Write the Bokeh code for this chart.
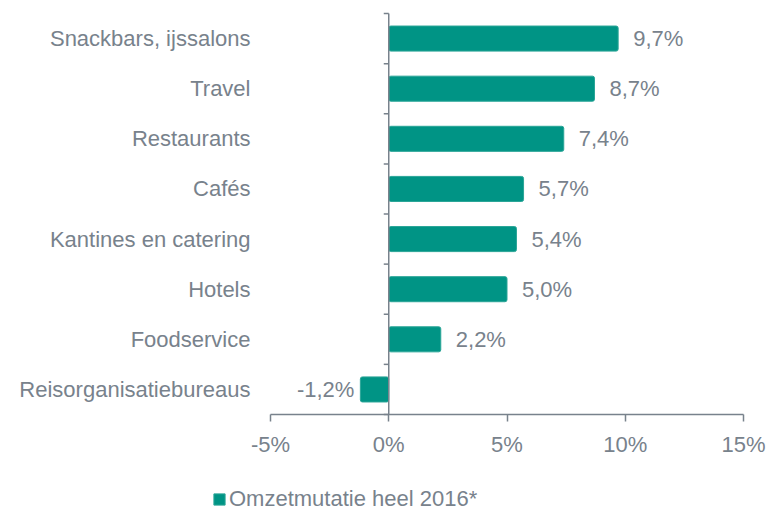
import numpy as np
from bokeh.plotting import figure
from bokeh.models import Range1d, FixedTicker, ColumnDataSource, Legend, LegendItem
from bokeh.core.properties import value
from bokeh.embed import file_html
from bokeh.resources import INLINE

categories = ["Snackbars, ijssalons", "Travel", "Restaurants", "Cafés",
              "Kantines en catering", "Hotels", "Foodservice", "Reisorganisatiebureaus"]
values = [9.7, 8.7, 7.4, 5.7, 5.4, 5.0, 2.2, -1.2]
x_ticks = [-5, 0, 5, 10, 15]
series_name = "Omzetmutatie heel 2016*"

TEAL = "#009485"
GRAY = "#78828c"
FONT = "Liberation Sans"
FS = "22px"

# layout (pixels): where the plotted data area sits inside the figure
W, H = 767, 512
X0PX, X1PX = 270, 743      # x = first / last tick
Y1PX, Y0PX = 13, 414       # top / bottom of category area

n = len(categories)
ppu_x = (X1PX - X0PX) / (x_ticks[-1] - x_ticks[0])
ppu_y = (Y0PX - Y1PX) / n
x_range = Range1d(x_ticks[0] - X0PX / ppu_x, x_ticks[-1] + (W - X1PX) / ppu_x)
y_range = Range1d(-(H - Y0PX) / ppu_y, n + Y1PX / ppu_y)

centers = [n - 1 - i + 0.5 for i in range(n)]
labels = [f"{v:.1f}".replace(".", ",") + "%" for v in values]
offsets = [15 if v >= 0 else -6 for v in values]
aligns = ["left" if v >= 0 else "right" for v in values]

src = ColumnDataSource(dict(y=centers, v=values, lab=labels, off=offsets, al=aligns))

p = figure(width=W, height=H, x_range=x_range, y_range=y_range,
           output_backend="svg", toolbar_location=None,
           min_border_left=0, min_border_right=0, min_border_top=0, min_border_bottom=0)
p.outline_line_color = None
p.xgrid.visible = False
p.ygrid.visible = False

bars = p.hbar(y="y", left=0, right="v", height=0.5, source=src, fill_color=TEAL,
              line_color="#2aa597", line_width=1, border_radius=2)

p.text(x="v", y="y", text="lab", x_offset="off", text_align="al", source=src,
       text_baseline="middle", text_font=value(FONT), text_font_size=FS, text_color=GRAY)

# vertical axis line at 0 with ticks at category boundaries
bounds = list(range(n + 1))
p.segment(x0=[0], x1=[0], y0=[bounds[0]], y1=[bounds[-1]], line_color=GRAY, line_width=1.5)
p.ray(x=[0] * len(bounds), y=bounds, length=5, length_units="screen", angle=np.pi,
      line_color=GRAY, line_width=1.5)

# x axis, drawn at y = 0
xa = p.xaxis[0]
xa.fixed_location = 0
xa.bounds = (x_ticks[0], x_ticks[-1])
xa.ticker = FixedTicker(ticks=x_ticks)
xa.major_label_overrides = {t: f"{t}%" for t in x_ticks}
xa.axis_line_color = GRAY
xa.axis_line_width = 1.5
xa.major_tick_line_color = GRAY
xa.major_tick_line_width = 1.5
xa.major_tick_out = 7
xa.major_tick_in = 0
xa.minor_tick_line_color = None
xa.major_label_standoff = 10
xa.major_label_text_font = FONT
xa.major_label_text_font_size = FS
xa.major_label_text_color = GRAY

# y axis (category labels), drawn at x = first tick
ya = p.yaxis[0]
ya.fixed_location = x_ticks[0]
ya.ticker = FixedTicker(ticks=centers)
ya.major_label_overrides = {c: cat for c, cat in zip(centers, categories)}
ya.axis_line_color = None
ya.major_tick_line_color = None
ya.minor_tick_line_color = None
ya.major_tick_out = 0
ya.major_tick_in = 0
ya.major_label_standoff = 20
ya.major_label_text_font = FONT
ya.major_label_text_font_size = FS
ya.major_label_text_color = GRAY

lg = Legend(items=[LegendItem(label=series_name, renderers=[bars])],
            location=(212, 0), orientation="horizontal", padding=0, margin=0, spacing=0,
            glyph_width=14, glyph_height=14, label_height=16, label_standoff=3,
            label_text_font=FONT, label_text_font_size=FS, label_text_color=GRAY,
            border_line_alpha=0, background_fill_alpha=0)
p.add_layout(lg)

open("out.html", "w").write(file_html(p, INLINE))
